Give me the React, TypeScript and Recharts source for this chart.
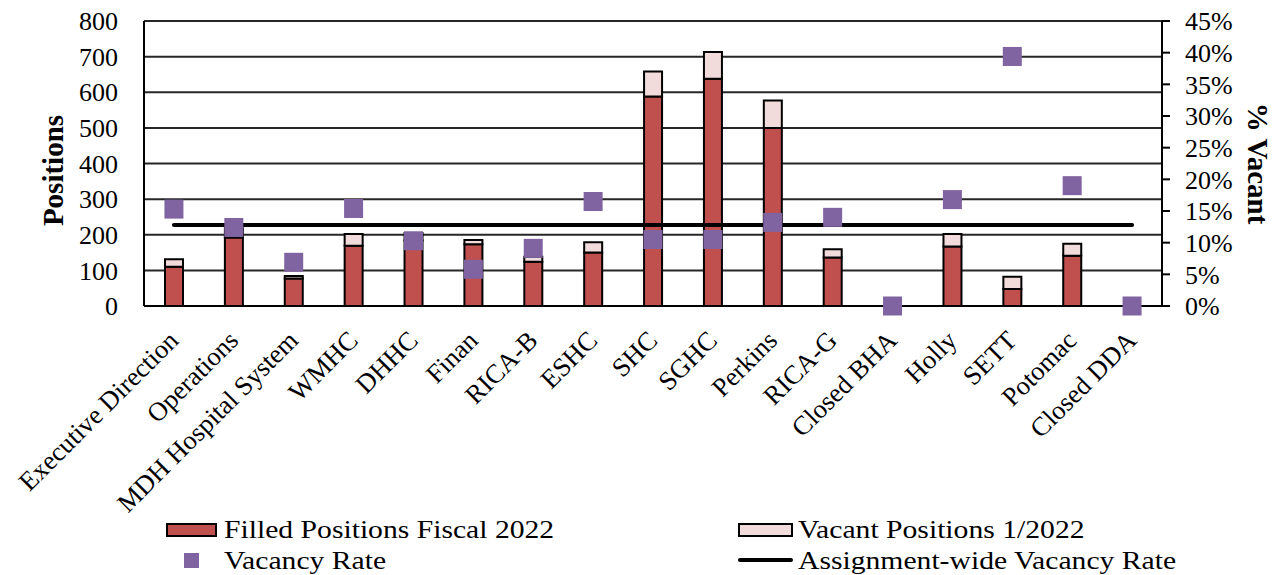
import React from 'react';
import { ComposedChart, Bar, Line, XAxis, YAxis, CartesianGrid } from 'recharts';

const categories = [
  'Executive Direction', 'Operations', 'MDH Hospital System', 'WMHC', 'DHHC', 'Finan', 'RICA-B', 'ESHC',
  'SHC', 'SGHC', 'Perkins', 'RICA-G', 'Closed BHA', 'Holly', 'SETT', 'Potomac', 'Closed DDA',
];
const filledPositions = [110, 192, 77, 169, 184, 173, 124, 150, 588, 638, 500, 136, 0, 167, 48, 141, 0];
const vacantPositions = [21, 26, 7, 33, 21, 12, 14, 29, 70, 75, 77, 23, 0, 35, 34, 34, 0];
const vacancyRate = [15.3, 12.4, 6.9, 15.4, 10.3, 5.8, 9.1, 16.5, 10.5, 10.5, 13.2, 14.0, 0, 16.8, 39.4, 19.0, 0];
const assignmentWideRate = 12.8;

const positionTicks = [0, 100, 200, 300, 400, 500, 600, 700, 800];
const percentTicks = [0, 5, 10, 15, 20, 25, 30, 35, 40, 45];

const FONT = "'Liberation Serif', 'Times New Roman', serif";
const RED = '#C0504D';
const PINK = '#F2DCDB';
const PURPLE = '#8064A2';

const data = categories.map((name, i) => ({
  name,
  filled: filledPositions[i],
  vacant: vacantPositions[i],
  rate: vacancyRate[i],
  overall: assignmentWideRate,
}));

const CategoryTick = (props: any) => {
  const { x, y, payload } = props;
  return (
    <g transform={`translate(${x + 6},${y + 28}) rotate(-45)`}>
      <text x={0} y={0} textAnchor="end" fontFamily={FONT} fontSize={26.5} fill="#000">
        {payload.value}
      </text>
    </g>
  );
};

const SquareDot = (props: any) => {
  const { cx, cy, index } = props;
  if (cx == null || cy == null) return <g key={`sq-${index}`} />;
  return <rect key={`sq-${index}`} x={cx - 9.5} y={cy - 9.5} width={19} height={19} fill={PURPLE} />;
};

const legendText: React.CSSProperties = {
  position: 'absolute',
  fontFamily: FONT,
  fontSize: 26,
  lineHeight: '26px',
  color: '#000',
  whiteSpace: 'nowrap',
  transform: 'scaleX(1.14)',
  transformOrigin: 'left center',
};

const App: React.FC = () => {
  return (
    <div style={{ position: 'absolute', left: 0, top: 0, width: 1285, height: 575, background: '#fff' }}>
      <ComposedChart width={1285} height={575} data={data} margin={{ top: 21, right: 0, left: 0, bottom: 0 }}>
        <CartesianGrid vertical={false} yAxisId="left" stroke="#000" strokeWidth={2} strokeOpacity={0.85} />
        <XAxis
          dataKey="name"
          interval={0}
          height={269}
          tickLine={false}
          axisLine={{ stroke: '#000', strokeWidth: 2 }}
          tick={<CategoryTick />}
        />
        <YAxis
          yAxisId="left"
          width={144}
          domain={[0, 800]}
          ticks={positionTicks}
          interval={0}
          tickLine={false}
          tickSize={6}
          tickMargin={20}
          axisLine={{ stroke: '#000', strokeWidth: 2 }}
          tick={{ fontFamily: FONT, fontSize: 26, fill: '#000' }}
          label={{
            content: (p: any) => {
              const vb = p.viewBox || { x: 0, y: 21, width: 144, height: 285 };
              const cx = vb.x + 53;
              const cy = vb.y + vb.height / 2 + 7;
              return (
                <text x={cx} y={cy} transform={`rotate(-90, ${cx}, ${cy})`} textAnchor="middle" dominantBaseline="central"
                  fontFamily={FONT} fontSize={29} fontWeight="bold" fill="#000">Positions</text>
              );
            },
          }}
        />
        <YAxis
          yAxisId="right"
          orientation="right"
          width={123}
          domain={[0, 45]}
          ticks={percentTicks}
          interval={0}
          tickSize={8}
          tickMargin={15}
          tickFormatter={(v: number) => `${v}%`}
          tickLine={{ stroke: '#000', strokeWidth: 2 }}
          axisLine={{ stroke: '#000', strokeWidth: 2 }}
          tick={{ fontFamily: FONT, fontSize: 26, fill: '#000', textAnchor: 'start' }}
          label={{
            content: (p: any) => {
              const vb = p.viewBox || { x: 1162, y: 21, width: 123, height: 285 };
              const cx = vb.x + 96;
              const cy = vb.y + vb.height / 2;
              return (
                <text x={cx} y={cy} transform={`rotate(90, ${cx}, ${cy})`} textAnchor="middle" dominantBaseline="central"
                  fontFamily={FONT} fontSize={29} fontWeight="bold" fill="#000">% Vacant</text>
              );
            },
          }}
        />
        <Bar yAxisId="left" dataKey="filled" stackId="pos" barSize={18} fill={RED} stroke="#000" strokeWidth={2} isAnimationActive={false} />
        <Bar yAxisId="left" dataKey="vacant" stackId="pos" barSize={18} fill={PINK} stroke="#000" strokeWidth={2} isAnimationActive={false} />
        <Line yAxisId="right" dataKey="overall" stroke="#000" strokeWidth={4} strokeLinecap="round" dot={false} activeDot={false} isAnimationActive={false} />
        <Line yAxisId="right" dataKey="rate" stroke="none" strokeWidth={0} dot={<SquareDot />} activeDot={false} isAnimationActive={false} />
      </ComposedChart>

      {/* legend */}
      <div style={{ position: 'absolute', left: 166, top: 523, width: 51, height: 14, background: RED, border: '2px solid #000', boxSizing: 'border-box' }} />
      <div style={{ ...legendText, left: 224, top: 517 }}>Filled Positions Fiscal 2022</div>
      <div style={{ position: 'absolute', left: 738, top: 523, width: 55, height: 14, background: PINK, border: '2px solid #000', boxSizing: 'border-box' }} />
      <div style={{ ...legendText, left: 798, top: 517 }}>Vacant Positions 1/2022</div>
      <div style={{ position: 'absolute', left: 184, top: 553, width: 15, height: 15, background: PURPLE }} />
      <div style={{ ...legendText, left: 224, top: 548 }}>Vacancy Rate</div>
      <div style={{ position: 'absolute', left: 738, top: 558, width: 55, height: 4, background: '#000', borderRadius: 2 }} />
      <div style={{ ...legendText, left: 798, top: 548 }}>Assignment-wide Vacancy Rate</div>
    </div>
  );
};

export default App;
